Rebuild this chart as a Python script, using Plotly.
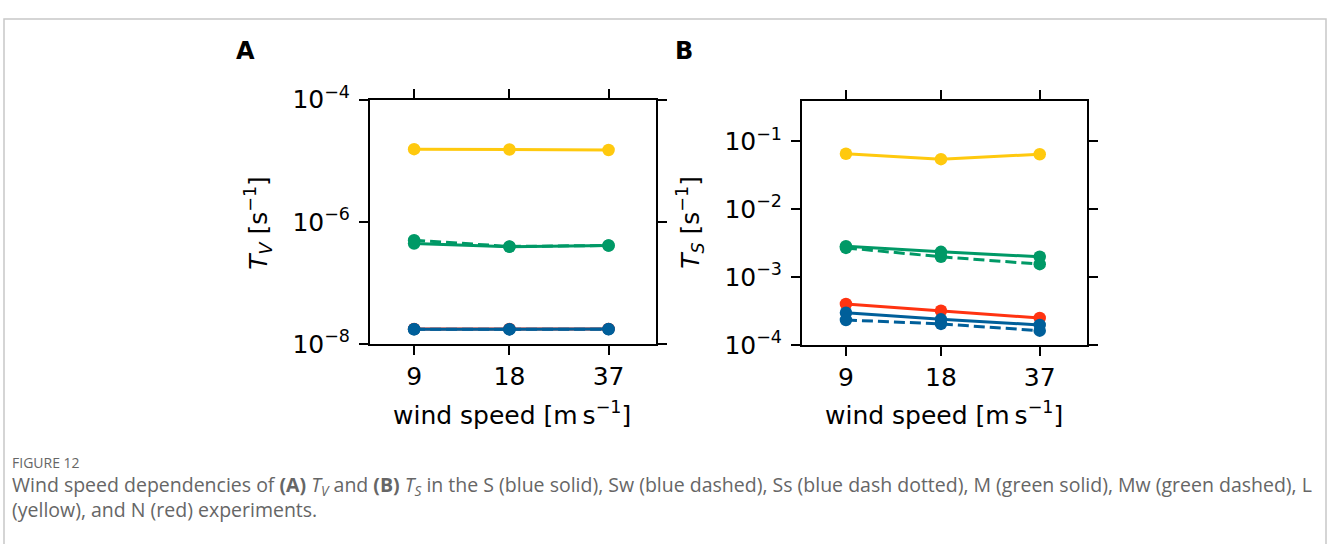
import plotly.graph_objects as go

# ---------------- data ----------------
wind = [9, 18, 37]
wind_labels = ["9", "18", "37"]

# Panel A: T_V [s^-1]
tv_L = [1.55e-5, 1.53e-5, 1.50e-5]
tv_M = [4.4e-7, 3.9e-7, 4.1e-7]
tv_Mw = [5.0e-7, 3.95e-7, 4.1e-7]
tv_N = [1.76e-8, 1.755e-8, 1.765e-8]
tv_S = [1.74e-8, 1.74e-8, 1.75e-8]
tv_Sw = [1.74e-8, 1.73e-8, 1.74e-8]

# Panel B: T_S [s^-1]
ts_L = [0.0656, 0.0546, 0.0645]
ts_M = [2.85e-3, 2.35e-3, 1.99e-3]
ts_Mw = [2.69e-3, 1.99e-3, 1.55e-3]
ts_N = [4.0e-4, 3.19e-4, 2.49e-4]
ts_S = [2.98e-4, 2.38e-4, 1.97e-4]
ts_Sw = [2.33e-4, 2.04e-4, 1.62e-4]

tvA_ticks = [1e-8, 1e-6, 1e-4]
tvA_labels = ["10<sup>−8</sup>", "10<sup>−6</sup>", "10<sup>−4</sup>"]
tsB_ticks = [1e-4, 1e-3, 1e-2, 1e-1]
tsB_labels = ["10<sup>−4</sup>", "10<sup>−3</sup>", "10<sup>−2</sup>", "10<sup>−1</sup>"]

YELLOW = "#FFC90E"
GREEN = "#009966"
RED = "#FF3311"
BLUE = "#005F9A"

W, H = 1328, 544
FONT = "DejaVu Sans"

fig = go.Figure()

def add(x, y, color, dash, xa, ya):
    fig.add_trace(go.Scatter(
        x=x, y=y, mode="lines+markers", xaxis=xa, yaxis=ya,
        line=dict(color=color, width=3, dash=dash),
        marker=dict(color=color, size=12.5),
        showlegend=False, hoverinfo="skip"))

for xa, ya, L, M, Mw, N, S, Sw in [
    ("x", "y", tv_L, tv_M, tv_Mw, tv_N, tv_S, tv_Sw),
    ("x2", "y2", ts_L, ts_M, ts_Mw, ts_N, ts_S, ts_Sw),
]:
    add(wind, L, YELLOW, "solid", xa, ya)
    add(wind, Mw, GREEN, "11px,5px", xa, ya)
    add(wind, M, GREEN, "solid", xa, ya)
    add(wind, N, RED, "solid", xa, ya)
    add(wind, S, BLUE, "solid", xa, ya)
    add(wind, Sw, BLUE, "11px,5px", xa, ya)

def px_x(p):
    return p / W

def px_y(p):
    return 1 - p / H

common_axis = dict(
    showline=True, linecolor="black", linewidth=2, mirror="ticks",
    ticks="outside", ticklen=9, tickwidth=2, tickcolor="black",
    showgrid=False, zeroline=False,
    tickfont=dict(family=FONT, size=25, color="black"),
)

xrange = [0.815, 1.718]
fig.update_layout(
    width=W, height=H,
    margin=dict(l=0, r=0, t=0, b=0),
    paper_bgcolor="white", plot_bgcolor="white",
    xaxis=dict(domain=[px_x(370), px_x(656)], anchor="y", type="log",
               range=xrange, tickvals=wind, ticktext=wind_labels, **common_axis),
    yaxis=dict(domain=[px_y(347), px_y(87)], anchor="x", type="log",
               range=[-8, -4], tickvals=tvA_ticks, ticktext=tvA_labels,
               ticklabelstandoff=4, **common_axis),
    xaxis2=dict(domain=[px_x(802), px_x(1087)], anchor="y2", type="log",
                range=xrange, tickvals=wind, ticktext=wind_labels, **common_axis),
    yaxis2=dict(domain=[px_y(348), px_y(88)], anchor="x2", type="log",
                range=[-4, -0.4], tickvals=tsB_ticks, ticktext=tsB_labels,
                ticklabelstandoff=4, **common_axis),
)

ann = []
def text(x, y, s, size, color="black", family=FONT, angle=0, xanchor="center", yanchor="middle", align="center"):
    ann.append(dict(x=x / W, y=1 - y / H, xref="paper", yref="paper", text=s,
                    showarrow=False, textangle=angle, xanchor=xanchor, yanchor=yanchor,
                    align=align,
                    font=dict(family=family, size=size, color=color)))

text(245, 35, "<b>A</b>", 24)
text(684, 35, "<b>B</b>", 24)
text(258, 218, "<i>T<sub>V</sub></i> [s<sup>−1</sup>]", 25, angle=-90)
text(690, 218, "<i>T<sub>S</sub></i> [s<sup>−1</sup>]", 25, angle=-90)
text(512, 421, "wind speed [m\u2009s<sup>−1</sup>]", 25)
text(944, 421, "wind speed [m\u2009s<sup>−1</sup>]", 25)

CAP = "Open Sans"
text(10, 473, "FIGURE 12", 14, color="#666666", family=CAP, xanchor="left")
caption = ("Wind speed dependencies of <b>(A)</b> <i>T<sub>V</sub></i> and <b>(B)</b> <i>T<sub>S</sub></i> "
           "in the S (blue solid), Sw (blue dashed), Ss (blue dash dotted), M (green solid), Mw (green dashed), L"
           "<br>(yellow), and N (red) experiments.")
text(10, 510, caption, 19.5, color="#666666", family=CAP, xanchor="left", align="left")

fig.update_layout(annotations=ann)

# thin outer frame
fig.add_shape(type="rect", xref="paper", yref="paper",
              x0=4 / W, x1=1326 / W, y0=-0.05, y1=1 - 1 / H,
              line=dict(color="#c8c8c8", width=1.5))

fig.write_html("out.html")
